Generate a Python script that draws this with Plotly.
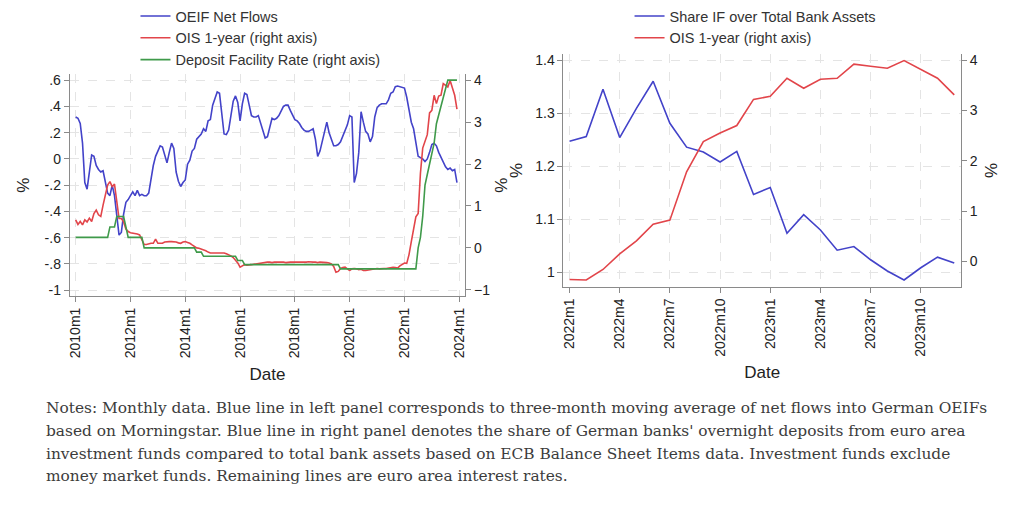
import plotly.graph_objects as go

# Left panel: monthly, 2010m1 - 2023m12
oeif_net_flows = [
    0.32, 0.31, 0.27, 0.12, -0.18, -0.23, -0.10, 0.03, 0.02, -0.05, -0.08, -0.10,   # 2010
    -0.09, -0.18, -0.26, -0.28, -0.20, -0.28, -0.45, -0.58, -0.56, -0.42, -0.33, -0.31,  # 2011
    -0.28, -0.25, -0.28, -0.24, -0.28, -0.27, -0.28, -0.28, -0.26, -0.15, -0.05, 0.02,  # 2012
    0.06, 0.10, 0.09, 0.02, -0.03, 0.05, 0.12, 0.08, -0.10, -0.17, -0.21, -0.18,   # 2013
    -0.16, -0.04, -0.01, 0.06, 0.08, 0.15, 0.17, 0.19, 0.23, 0.21, 0.29, 0.30,     # 2014
    0.41, 0.47, 0.51, 0.50, 0.36, 0.19, 0.185, 0.22, 0.33, 0.44, 0.48, 0.43,       # 2015
    0.29, 0.42, 0.50, 0.49, 0.41, 0.33, 0.32, 0.32, 0.33, 0.27, 0.22, 0.16,        # 2016
    0.17, 0.24, 0.31, 0.30, 0.31, 0.33, 0.37, 0.40, 0.41, 0.41, 0.37, 0.34,        # 2017
    0.30, 0.29, 0.27, 0.24, 0.22, 0.21, 0.21, 0.22, 0.23, 0.15, 0.02, 0.06,        # 2018
    0.13, 0.20, 0.28, 0.20, 0.14, 0.10, 0.10, 0.11, 0.13, 0.17, 0.21, 0.26,        # 2019
    0.33, 0.32, -0.18, -0.11, 0.05, 0.36, 0.28, 0.21, 0.19, 0.13, 0.17, 0.32,      # 2020
    0.39, 0.41, 0.42, 0.42, 0.42, 0.45, 0.50, 0.51, 0.55, 0.555, 0.55, 0.55,       # 2021
    0.54, 0.47, 0.37, 0.28, 0.23, 0.11, 0.02, 0.01, 0.00, -0.02, 0.00, 0.05,       # 2022
    0.11, 0.12, 0.10, 0.05, 0.01, -0.02, -0.06, -0.08, -0.07, -0.09, -0.08, -0.18,  # 2023
]
ois_1y = [
    0.67, 0.56, 0.63, 0.55, 0.67, 0.62, 0.71, 0.63, 0.82, 0.90, 0.79, 0.75,        # 2010
    1.02, 1.30, 1.50, 1.58, 1.46, 1.52, 1.05, 0.70, 0.70, 0.62, 0.45, 0.39,        # 2011
    0.36, 0.35, 0.35, 0.33, 0.31, 0.20, 0.08, 0.08, 0.10, 0.11, 0.11, 0.21,        # 2012
    0.11, 0.11, 0.11, 0.14, 0.15, 0.15, 0.15, 0.15, 0.14, 0.12, 0.11, 0.14,        # 2013
    0.15, 0.13, 0.11, 0.07, 0.03, 0.00, -0.01, -0.03, -0.04, -0.07, -0.10, -0.12,  # 2014
    -0.12, -0.12, -0.12, -0.12, -0.12, -0.12, -0.14, -0.16, -0.19, -0.23, -0.30, -0.36,  # 2015
    -0.46, -0.42, -0.40, -0.41, -0.41, -0.40, -0.39, -0.38, -0.37, -0.36, -0.35, -0.34,  # 2016
    -0.34, -0.34, -0.35, -0.34, -0.34, -0.33, -0.34, -0.34, -0.35, -0.34, -0.34, -0.34,  # 2017
    -0.34, -0.34, -0.34, -0.35, -0.34, -0.34, -0.33, -0.34, -0.34, -0.34, -0.35, -0.34,  # 2018
    -0.34, -0.34, -0.35, -0.36, -0.38, -0.44, -0.58, -0.56, -0.49, -0.47, -0.46, -0.50,  # 2019
    -0.54, -0.50, -0.49, -0.50, -0.52, -0.51, -0.54, -0.54, -0.53, -0.52, -0.50, -0.49,  # 2020
    -0.49, -0.50, -0.49, -0.49, -0.49, -0.48, -0.48, -0.46, -0.47, -0.48, -0.43, -0.39,  # 2021
    -0.36, -0.37, -0.16, 0.15, 0.41, 0.74, 0.82, 1.78, 2.38, 2.55, 2.70, 3.22,     # 2022
    3.28, 3.64, 3.44, 3.62, 3.64, 3.92, 3.88, 3.84, 3.99, 3.81, 3.64, 3.31,        # 2023
]
deposit_facility_rate = [
    0.25, 0.25, 0.25, 0.25, 0.25, 0.25, 0.25, 0.25, 0.25, 0.25, 0.25, 0.25,        # 2010
    0.25, 0.25, 0.25, 0.50, 0.50, 0.50, 0.75, 0.75, 0.75, 0.75, 0.50, 0.25,        # 2011
    0.25, 0.25, 0.25, 0.25, 0.25, 0.25, 0.00, 0.00, 0.00, 0.00, 0.00, 0.00,        # 2012
    0.00, 0.00, 0.00, 0.00, 0.00, 0.00, 0.00, 0.00, 0.00, 0.00, 0.00, 0.00,        # 2013
    0.00, 0.00, 0.00, 0.00, 0.00, -0.10, -0.10, -0.10, -0.20, -0.20, -0.20, -0.20,  # 2014
    -0.20, -0.20, -0.20, -0.20, -0.20, -0.20, -0.20, -0.20, -0.20, -0.20, -0.20, -0.30,  # 2015
    -0.30, -0.30, -0.40, -0.40, -0.40, -0.40, -0.40, -0.40, -0.40, -0.40, -0.40, -0.40,  # 2016
    -0.40, -0.40, -0.40, -0.40, -0.40, -0.40, -0.40, -0.40, -0.40, -0.40, -0.40, -0.40,  # 2017
    -0.40, -0.40, -0.40, -0.40, -0.40, -0.40, -0.40, -0.40, -0.40, -0.40, -0.40, -0.40,  # 2018
    -0.40, -0.40, -0.40, -0.40, -0.40, -0.40, -0.40, -0.40, -0.50, -0.50, -0.50, -0.50,  # 2019
    -0.50, -0.50, -0.50, -0.50, -0.50, -0.50, -0.50, -0.50, -0.50, -0.50, -0.50, -0.50,  # 2020
    -0.50, -0.50, -0.50, -0.50, -0.50, -0.50, -0.50, -0.50, -0.50, -0.50, -0.50, -0.50,  # 2021
    -0.50, -0.50, -0.50, -0.50, -0.50, -0.50, 0.00, 0.25, 0.75, 1.50, 1.75, 2.00,  # 2022
    2.25, 2.50, 2.96, 3.16, 3.35, 3.60, 3.80, 4.00, 4.00, 4.00, 4.00, 4.00,        # 2023
]
left_tick_labels = ["2010m1", "2012m1", "2014m1", "2016m1", "2018m1", "2020m1", "2022m1", "2024m1"]
left_tick_step = 24
left_y_ticks = [0.6, 0.4, 0.2, 0, -0.2, -0.4, -0.6, -0.8, -1]
left_y_labels = [".6", ".4", ".2", "0", "-.2", "-.4", "-.6", "-.8", "-1"]
left_y2_ticks = [4, 3, 2, 1, 0, -1]

# Right panel: monthly, 2022m1 - 2023m12
share_if_bank_assets = [
    1.247, 1.256, 1.345, 1.254, 1.309, 1.360, 1.281, 1.236, 1.227, 1.208, 1.228, 1.147,  # 2022
    1.160, 1.074, 1.109, 1.080, 1.042, 1.049, 1.024, 1.003, 0.986, 1.009, 1.029, 1.018,  # 2023
]
ois_1y_recent = ois_1y[-len(share_if_bank_assets):]
right_tick_labels = ["2022m1", "2022m4", "2022m7", "2022m10", "2023m1", "2023m4", "2023m7", "2023m10"]
right_tick_step = 3
right_y_ticks = [1, 1.1, 1.2, 1.3, 1.4]
right_y2_ticks = [0, 1, 2, 3, 4]

notes_lines = [
    "Notes: Monthly data. Blue line in left panel corresponds to three-month moving average of net flows into German OEIFs",
    "based on Morningstar. Blue line in right panel denotes the share of German banks' overnight deposits from euro area",
    "investment funds compared to total bank assets based on ECB Balance Sheet Items data. Investment funds exclude",
    "money market funds. Remaining lines are euro area interest rates.",
]

BLUE = "#4343c9"
RED = "#e2454a"
GREEN = "#3f9a4a"
AXIS = "#8a8a8a"
GRID = "#e4e4e4"
W, H = 1024, 507

months_left = list(range(len(oeif_net_flows)))
months_right = list(range(len(share_if_bank_assets)))

fig = go.Figure()
fig.add_trace(go.Scatter(x=months_left, y=oeif_net_flows, name="OEIF Net Flows", mode="lines",
                         line=dict(color=BLUE, width=1.6), xaxis="x", yaxis="y", legend="legend"))
fig.add_trace(go.Scatter(x=months_left, y=ois_1y, name="OIS 1-year (right axis)", mode="lines",
                         line=dict(color=RED, width=1.6), xaxis="x", yaxis="y2", legend="legend"))
fig.add_trace(go.Scatter(x=months_left, y=deposit_facility_rate, name="Deposit Facility Rate (right axis)",
                         mode="lines", line=dict(color=GREEN, width=1.6), xaxis="x", yaxis="y2", legend="legend"))
fig.add_trace(go.Scatter(x=months_right, y=share_if_bank_assets, name="Share IF over Total Bank Assets",
                         mode="lines", line=dict(color=BLUE, width=1.6), xaxis="x2", yaxis="y3", legend="legend2"))
fig.add_trace(go.Scatter(x=months_right, y=ois_1y_recent, name="OIS 1-year (right axis)", mode="lines",
                         line=dict(color=RED, width=1.6), xaxis="x2", yaxis="y4", legend="legend2"))

axis_common = dict(showline=True, linecolor=AXIS, linewidth=1, ticks="outside", ticklen=5,
                   tickcolor=AXIS, zeroline=False, tickfont=dict(size=14, color="#222"))
grid = dict(showgrid=True, gridcolor=GRID, griddash="dash", gridwidth=1)

fig.update_layout(
    width=W, height=H,
    margin=dict(l=0, r=0, t=0, b=0),
    paper_bgcolor="white", plot_bgcolor="white",
    font=dict(family="Liberation Sans, Arial, sans-serif", size=14, color="#222"),
    xaxis=dict(domain=[68 / W, 465 / W], anchor="y", range=[-2.6, 170.6],
               tickvals=[i * left_tick_step for i in range(len(left_tick_labels))],
               ticktext=left_tick_labels, tickangle=-90,
               title=dict(text="Date", standoff=10), **axis_common, **grid),
    yaxis=dict(domain=[1 - 296 / H, 1 - 72 / H], anchor="x", range=[-1.045, 0.645],
               tickvals=left_y_ticks, ticktext=left_y_labels,
               title=dict(text="%", standoff=10), **axis_common, **grid),
    yaxis2=dict(overlaying="y", side="right", anchor="x", range=[-1.149, 4.14],
                tickvals=left_y2_ticks, showgrid=False,
                title=dict(text="%", standoff=5), **axis_common),
    xaxis2=dict(domain=[563.7 / W, 962.7 / W], anchor="y3", range=[-0.36, 23.4],
                tickvals=[i * right_tick_step for i in range(len(right_tick_labels))],
                ticktext=right_tick_labels, tickangle=-90,
                title=dict(text="Date", standoff=10), **axis_common, **grid),
    yaxis3=dict(domain=[1 - 286.7 / H, 1 - 51.7 / H], anchor="x2", range=[0.973, 1.411],
                tickvals=right_y_ticks, ticktext=["1", "1.1", "1.2", "1.3", "1.4"],
                title=dict(text="%", standoff=8), **axis_common, **grid),
    yaxis4=dict(overlaying="y3", side="right", anchor="x2", range=[-0.506, 4.118],
                tickvals=right_y2_ticks, showgrid=False,
                title=dict(text="%", standoff=8), **axis_common),
    legend=dict(x=134 / W, y=1 + 3 / H, xanchor="left", yanchor="top", itemwidth=30,
                bgcolor="rgba(0,0,0,0)", font=dict(size=14.5, color="#333")),
    legend2=dict(x=630 / W, y=1 + 3 / H, xanchor="left", yanchor="top", itemwidth=30,
                 bgcolor="rgba(0,0,0,0)", font=dict(size=14.5, color="#333")),
)

line_y = [409, 432, 455, 478]
for text, y in zip(notes_lines, line_y):
    fig.add_annotation(text=text, xref="paper", yref="paper", x=42 / W, y=1 - y / H,
                       xanchor="left", yanchor="middle", showarrow=False,
                       font=dict(family="DejaVu Serif, Liberation Serif, serif", size=15.4, color="#3c3c3c"))

# drop the browser's default page margin so the figure sits at the window's top-left corner
fig.write_html("out.html", config={"displayModeBar": False},
               post_script="document.body.style.margin='0';")
